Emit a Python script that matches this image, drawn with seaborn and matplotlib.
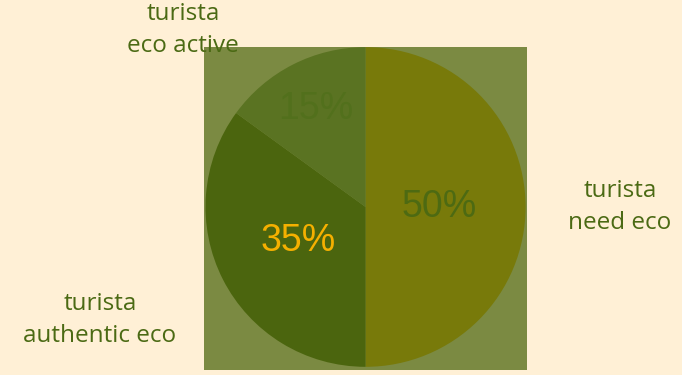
import matplotlib
matplotlib.use("Agg")
import matplotlib.pyplot as plt
import seaborn as sns
import numpy as np

categories = ["turista\nneed eco", "turista\nauthentic eco", "turista\neco active"]
values = [50, 35, 15]
pct_labels = ["50%", "35%", "15%"]

wedge_colors = ["#787A0A", "#4B650E", "#5A7322"]
pct_colors = ["#4D6A12", "#F5B000", "#52701C"]
pct_dist = [0.46, 0.47, 0.69]

sns.set_theme(style="white")
plt.rcParams["font.family"] = ["Open Sans", "DejaVu Sans"]

fig = plt.figure(figsize=(6.82, 3.75), dpi=100, facecolor="#FFF0D6")
ax = fig.add_axes([0.299, 0.0133, 0.474, 0.861])

wedges, texts = ax.pie(values, colors=wedge_colors, startangle=90, counterclock=False,
                       radius=1.0, wedgeprops=dict(linewidth=0))
ax.set_frame_on(True)
ax.set_facecolor("#7B8A42")
ax.set_xlim(-1.01, 1.01)
ax.set_ylim(-1.02, 1.0)
ax.set_aspect("auto")
ax.set_xticks([])
ax.set_yticks([])
for s in ax.spines.values():
    s.set_visible(False)

for w, lab, c, d in zip(wedges, pct_labels, pct_colors, pct_dist):
    ang = np.deg2rad((w.theta1 + w.theta2) / 2)
    ax.text(d * np.cos(ang), d * np.sin(ang), lab, color=c, ha="center", va="center",
            fontsize=27, family=["Liberation Sans", "DejaVu Sans"])

# outside labels in figure pixel coordinates
label_pos = [(620, 207), (100, 320), (183, 30)]
for lab, (px, py) in zip(categories, label_pos):
    fig.text(px / 682, 1 - py / 375, lab, color="#4B6A14", ha="center", va="center",
             fontsize=17.5, linespacing=1.4, zorder=5)

fig.savefig("out.png", dpi=100, facecolor=fig.get_facecolor())
